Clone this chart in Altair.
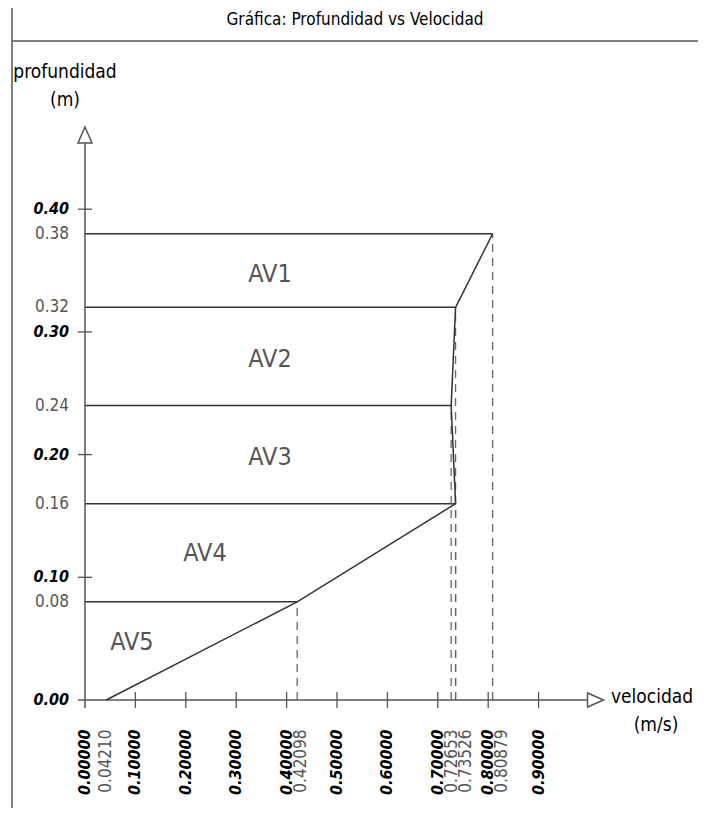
import altair as alt
import pandas as pd

# ---- data ----
depths = [0.00, 0.08, 0.16, 0.24, 0.32, 0.38]
velocities = [0.04210, 0.42098, 0.73526, 0.72653, 0.73526, 0.80879]
y_ticks = [0.0, 0.1, 0.2, 0.3, 0.4]
x_ticks = [0.0, 0.1, 0.2, 0.3, 0.4, 0.5, 0.6, 0.7, 0.8, 0.9]
zone_names = ["AV1", "AV2", "AV3", "AV4", "AV5"]
zone_x = [0.367, 0.367, 0.367, 0.238, 0.093]
zone_y = [0.347, 0.278, 0.198, 0.120, 0.047]

# ---- scales ----
PX_V = 504.0
PX_D = 1227.0
W, H = 690, 800
xs = alt.Scale(domain=[-77 / PX_V, (W - 77) / PX_V], nice=False, zero=False)
ys = alt.Scale(domain=[-(H - 692) / PX_D, 692 / PX_D], nice=False, zero=False)

AX = "#555555"
LN = "#333333"
COND = "DejaVu Sans Condensed, Liberation Sans Narrow, DejaVu Sans, sans-serif"
NARROW = "Liberation Sans Narrow, DejaVu Sans Condensed, sans-serif"


def X(f="v"):
    return alt.X(f"{f}:Q", scale=xs, axis=None)


def Y(f="d"):
    return alt.Y(f"{f}:Q", scale=ys, axis=None)


# profile
prof = pd.DataFrame({"v": velocities, "d": depths, "i": range(len(depths))})
levels = prof[prof["d"] > 0].copy()
levels["z"] = 0.0

# frame + title
frame_v = alt.Chart(pd.DataFrame({"a": [0]})).mark_rule(color=AX, strokeWidth=1.5).encode(
    x=alt.value(4), y=alt.value(0), y2=alt.value(H))
frame_h = alt.Chart(pd.DataFrame({"a": [0]})).mark_rule(color=AX, strokeWidth=1.5).encode(
    x=alt.value(4), x2=alt.value(W), y=alt.value(33))
title = alt.Chart(pd.DataFrame({"t": ["Gráfica: Profundidad vs Velocidad"]})).mark_text(
    font=NARROW, fontSize=17, color="#000", baseline="middle", align="center").encode(
    x=alt.value(347), y=alt.value(12), text="t:N")

# axes lines
yaxis = alt.Chart(pd.DataFrame({"v": [0.0], "d": [-0.0065], "d2": [0.454]})).mark_rule(
    color=AX, strokeWidth=1.5).encode(x=X(), y=Y(), y2="d2:Q")
xaxis = alt.Chart(pd.DataFrame({"v": [-0.014], "v2": [0.998], "d": [0.0]})).mark_rule(
    color=AX, strokeWidth=1.5).encode(x=X(), x2="v2:Q", y=Y())

xt = pd.DataFrame({"v": x_ticks[1:]})
xt["d"] = -0.0065
xt["d2"] = 0.0065
xtick = alt.Chart(xt).mark_rule(color=AX, strokeWidth=1.3).encode(x=X(), y=Y(), y2="d2:Q")
yt = pd.DataFrame({"d": y_ticks[1:]})
yt["v"] = -0.014
yt["v2"] = 0.014
ytick = alt.Chart(yt).mark_rule(color=AX, strokeWidth=1.3).encode(x=X(), x2="v2:Q", y=Y())

# arrows
arr_y = alt.Chart(pd.DataFrame({"v": [0.0], "d": [0.4605]})).mark_point(
    shape="M0,-1L0.875,1L-0.875,1Z", size=256, filled=True, fill="white",
    stroke=AX, strokeWidth=1.5, opacity=1).encode(x=X(), y=Y())
arr_x = alt.Chart(pd.DataFrame({"v": [1.0129], "d": [0.0]})).mark_point(
    shape="M1,0L-1,-0.875L-1,0.875Z", size=256, filled=True, fill="white",
    stroke=AX, strokeWidth=1.5, opacity=1).encode(x=X(), y=Y())

# horizontal level lines
hlines = alt.Chart(levels).mark_rule(color=LN, strokeWidth=1.5).encode(
    x=X("z"), x2="v:Q", y=Y())
# dashed verticals
vlines = alt.Chart(levels).mark_rule(color="#666", strokeWidth=1.3, strokeDash=[8, 6]).encode(
    x=X(), y=Y("z"), y2="d:Q")
# profile
pline = alt.Chart(prof).mark_line(color=LN, strokeWidth=1.5).encode(
    x=X(), y=Y(), order="i:Q")

# y labels
yb = pd.DataFrame({"d": y_ticks, "t": [f"{t:.2f}" for t in y_ticks]})
yb["v"] = 0.0
ylab_b = alt.Chart(yb).mark_text(font=COND, fontSize=16, fontWeight="bold", fontStyle="italic",
                                 color="#000", align="right", baseline="middle", dx=-16).encode(
    x=X(), y=Y(), text="t:N")
yd = pd.DataFrame({"d": depths[1:], "t": [f"{t:.2f}" for t in depths[1:]]})
yd["v"] = 0.0
ylab_d = alt.Chart(yd).mark_text(font=COND, fontSize=17, color="#555", align="right",
                                 baseline="middle", dx=-16).encode(
    x=X(), y=Y(), text="t:N")

# x labels with simple de-overlap
items = [(v, "b") for v in x_ticks] + [(v, "n") for v in sorted(set(velocities))]
items.sort(key=lambda a: a[0])
rows = []
last = -1e9
for v, k in items:
    p = v * PX_V
    if p < last + 14:
        p = last + 14
    last = p
    rows.append({"v": p / PX_V, "d": -0.024, "k": k, "t": f"{v:.5f}"})
xl = pd.DataFrame(rows)
xlab_b = alt.Chart(xl[xl.k == "b"]).mark_text(font=COND, fontSize=16, fontWeight="bold",
                                              fontStyle="italic", color="#000", angle=270,
                                              align="right", baseline="middle").encode(
    x=X(), y=Y(), text="t:N")
xlab_n = alt.Chart(xl[xl.k == "n"]).mark_text(font=COND, fontSize=17, color="#555", angle=270,
                                              align="right", baseline="middle").encode(
    x=X(), y=Y(), text="t:N")

# zone labels
zones = alt.Chart(pd.DataFrame({"v": zone_x, "d": zone_y, "t": zone_names})).mark_text(
    font=COND, fontSize=25, color="#555", align="center", baseline="middle").encode(
    x=X(), y=Y(), text="t:N")

# axis titles
ytitle = alt.Chart(pd.DataFrame({"t": ["profundidad", "(m)"], "yy": [64, 92]})).mark_text(
    font=COND, fontSize=19, color="#000", align="center", baseline="middle").encode(
    x=alt.value(57), y=alt.Y("yy:Q", scale=None), text="t:N")
xtitle = alt.Chart(pd.DataFrame({"t": ["velocidad", "(m/s)"], "yy": [689, 717], "xx": [644, 648]})).mark_text(
    font=COND, fontSize=19, color="#000", align="center", baseline="middle").encode(
    x=alt.X("xx:Q", scale=None), y=alt.Y("yy:Q", scale=None), text="t:N")

chart = alt.layer(
    frame_v, frame_h, title, hlines, vlines, yaxis, xaxis, xtick, ytick, pline,
    arr_y, arr_x, ylab_b, ylab_d, xlab_b, xlab_n, zones, ytitle, xtitle
).resolve_scale(x="independent", y="independent").properties(
    width=W, height=H, autosize=alt.AutoSizeParams(type="none"), padding=0
).configure_view(stroke=None)

chart.save("out.html", embed_options={"renderer": "svg", "actions": False})
